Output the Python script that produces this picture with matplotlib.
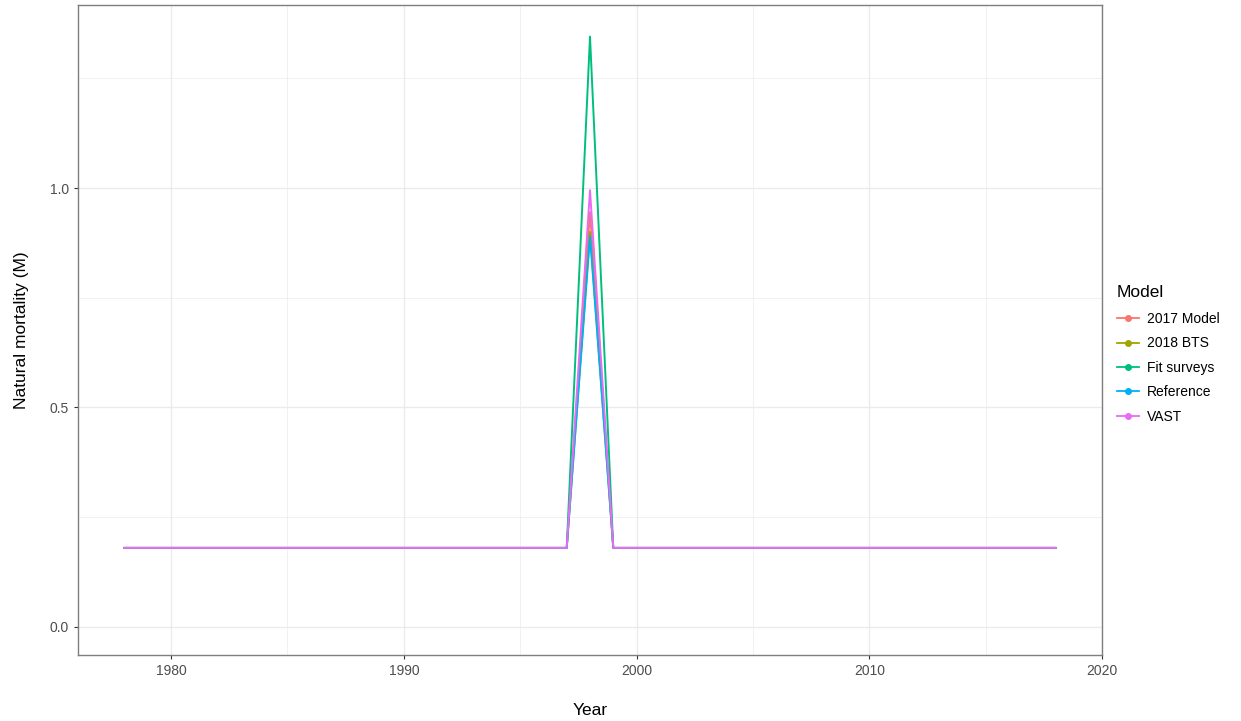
import numpy as np
import matplotlib.pyplot as plt
from matplotlib.lines import Line2D
from matplotlib.ticker import MultipleLocator

plt.rcParams['font.family'] = ['Liberation Sans', 'DejaVu Sans']

# natural mortality by model, constant except the 1998 spike
years = np.arange(1978, 2019)
base_m = 0.18
spike_year = 1998
models = ["2017 Model", "2018 BTS", "Fit surveys", "Reference", "VAST"]
spike_m = [0.945, 0.90, 1.345, 0.89, 0.995]
colors = ["#F8766D", "#A3A500", "#00BF7D", "#00B0F6", "#E76BF3"]

fig = plt.figure(figsize=(12.41, 7.21), dpi=100)
ax = fig.add_axes([78 / 1241, 66 / 721, 1024 / 1241, 650 / 721])

for name, peak, col in zip(models, spike_m, colors):
    m = np.full(len(years), base_m)
    m[years == spike_year] = peak
    ax.plot(years, m, color=col, lw=1.4)

ax.set_xlim(1976, 2020)
ax.set_ylim(-0.064, 1.417)
ax.xaxis.set_major_locator(MultipleLocator(10))
ax.xaxis.set_minor_locator(MultipleLocator(5))
ax.yaxis.set_major_locator(MultipleLocator(0.5))
ax.yaxis.set_minor_locator(MultipleLocator(0.25))
ax.yaxis.set_major_formatter(plt.FuncFormatter(lambda v, p: f"{v:.1f}"))
ax.grid(True, which="major", color="#EBEBEB", lw=1.0)
ax.grid(True, which="minor", color="#EBEBEB", lw=0.5)
ax.set_axisbelow(True)
for s in ax.spines.values():
    s.set_color("#7F7F7F")
    s.set_linewidth(1.0)
ax.tick_params(which="major", length=3, color="#333333", labelsize=10, labelcolor="#4D4D4D")
ax.tick_params(which="minor", length=0)

ax.set_xlabel("Year", fontsize=12.5, labelpad=18)
ax.set_ylabel("Natural mortality (M)", fontsize=12.5, labelpad=15)

handles = [Line2D([0], [0], color=c, marker="o", markersize=4, lw=1.3) for c in colors]
leg = fig.legend(handles, models, title="Model", loc="upper left",
                 bbox_to_anchor=(1104 / 1241, 1 - 272 / 721), frameon=False,
                 fontsize=10, title_fontsize=12.5, handlelength=1.6,
                 labelspacing=0.75, handletextpad=0.6)
leg._legend_box.align = "left"
leg._legend_box.sep = 9

fig.savefig("out.png", dpi=100)
